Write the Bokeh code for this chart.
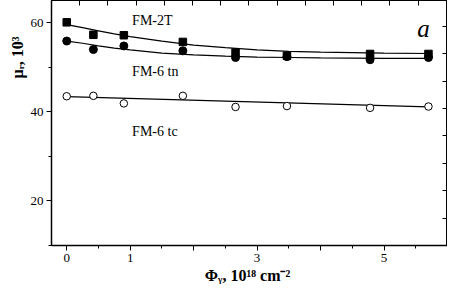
from bokeh.plotting import figure
from bokeh.models import Range1d, LinearAxis, FixedTicker, Label, Title
from bokeh.embed import file_html
from bokeh.resources import INLINE

# ---- data ----
dose = [0.0, 0.42, 0.90, 1.83, 2.66, 3.47, 4.78, 5.70]
fm2t = [60.1, 57.3, 57.2, 55.7, 53.3, 52.6, 53.0, 53.0]
fm6tn = [55.9, 54.0, 54.8, 53.7, 52.2, 52.4, 51.7, 52.2]
fm6tc = [43.5, 43.6, 41.9, 43.6, 41.1, 41.3, 40.9, 41.2]

fit_x = [0.0, 0.25, 0.5, 0.75, 1.0, 1.5, 2.0, 2.5, 3.0, 3.5, 4.0, 4.5, 5.0, 5.7]
fit_fm2t = [59.6, 58.9, 58.2, 57.5, 56.9, 55.9, 55.0, 54.4, 53.9, 53.6, 53.4, 53.3, 53.2, 53.1]
fit_fm6tn = [55.9, 55.4, 54.8, 54.3, 53.9, 53.2, 52.8, 52.5, 52.3, 52.2, 52.1, 52.05, 52.0, 52.0]
fit_tc_x = [0.0, 5.7]
fit_fm6tc = [43.4, 41.1]

x_ticks = [0, 1, 2, 3, 4, 5, 6]
x_tick_labels = {0: "0", 1: "1", 2: "", 3: "3", 4: "", 5: "5", 6: ""}
x_minor = [0.5, 1.5, 2.5, 3.5, 4.5, 5.5]
y_ticks = [20, 40, 60]
y_minor = [10, 30, 50]
top_ticks = list(range(1, 14))
right_ticks = list(range(1, 9))

FONT = "Liberation Serif"

p = figure(width=447, height=292, output_backend="svg", toolbar_location=None,
           x_range=Range1d(-0.24, 6.0), y_range=Range1d(10, 65),
           min_border_left=51, min_border_right=0, min_border_top=0, min_border_bottom=47)
p.background_fill_color = "white"
p.border_fill_color = "white"
p.outline_line_color = "black"
p.outline_line_width = 1
p.xgrid.visible = False
p.ygrid.visible = False

# bottom axis
xa = p.xaxis[0]
xa.ticker = FixedTicker(ticks=x_ticks, minor_ticks=x_minor)
xa.major_label_overrides = x_tick_labels
xa.axis_label = "Φᵧ,  10¹⁸ cm⁻²"
xa.axis_label_text_font = FONT
xa.axis_label_text_font_style = "bold"
xa.axis_label_text_font_size = "16px"
xa.axis_label_text_color = "black"
xa.axis_label_standoff = 2
xa.major_label_text_font = FONT
xa.major_label_text_font_size = "13px"
xa.major_label_text_color = "black"
xa.major_label_standoff = 3
xa.major_tick_out = 5
xa.major_tick_in = 0
xa.minor_tick_out = 3
xa.minor_tick_in = 0
xa.axis_line_color = "black"
xa.major_tick_line_color = "black"
xa.minor_tick_line_color = "black"
xa.axis_line_width = 1.5

# left axis
ya = p.yaxis[0]
ya.ticker = FixedTicker(ticks=y_ticks, minor_ticks=y_minor)
ya.major_label_text_font = FONT
ya.major_label_text_font_size = "13px"
ya.major_label_text_color = "black"
ya.major_label_standoff = 3
ya.major_tick_out = 5
ya.major_tick_in = 0
ya.minor_tick_out = 3
ya.minor_tick_in = 0
ya.axis_line_color = "black"
ya.major_tick_line_color = "black"
ya.minor_tick_line_color = "black"
ya.axis_line_width = 1.5

# y axis title placed toward the top of the left side
p.add_layout(Title(text="μᵣ, 10³", align="right", offset=36, text_font=FONT,
                   text_font_style="bold", text_font_size="16px", text_color="black",
                   standoff=4), "left")

# decorative top / right axes (tick marks only)
p.extra_x_ranges = {"top": Range1d(0, 14.04)}
p.extra_y_ranges = {"right": Range1d(0, 8.94)}
ta = LinearAxis(x_range_name="top", ticker=FixedTicker(ticks=top_ticks, minor_ticks=[]),
                major_label_overrides={t: "" for t in top_ticks}, major_label_standoff=0,
                axis_label_standoff=0,
                major_tick_in=5, major_tick_out=0, minor_tick_in=0, minor_tick_out=0,
                axis_line_color="black", major_tick_line_color="black")
ra = LinearAxis(y_range_name="right", ticker=FixedTicker(ticks=right_ticks, minor_ticks=[]),
                major_label_overrides={t: "" for t in right_ticks}, major_label_standoff=0,
                axis_label_standoff=0,
                major_tick_in=5, major_tick_out=0, minor_tick_in=0, minor_tick_out=0,
                axis_line_color="black", major_tick_line_color="black")
p.add_layout(ta, "above")
p.add_layout(ra, "right")

# fits
p.line(fit_x, fit_fm2t, line_color="black", line_width=1.2)
p.line(fit_x, fit_fm6tn, line_color="black", line_width=1.2)
p.line(fit_tc_x, fit_fm6tc, line_color="black", line_width=1.2)

# points
p.scatter(dose, fm2t, marker="square", size=7.5, fill_color="black", line_color="black")
p.scatter(dose, fm6tn, marker="circle", size=8, fill_color="black", line_color="black")
p.scatter(dose, fm6tc, marker="circle", size=7.5, fill_color="white", line_color="black", line_width=1)

# series labels
for txt, yy in [("FM-2T", 60.4), ("FM-6 tn", 49.1), ("FM-6 tc", 35.6)]:
    p.add_layout(Label(x=1.03, y=yy, text=txt, text_font=FONT, text_font_size="14px",
                       text_baseline="middle", text_align="left", text_color="black"))
p.add_layout(Label(x=5.72, y=58.8, text="a", text_font=FONT, text_font_size="25px",
                   text_font_style="italic", text_baseline="middle", text_align="right",
                   text_color="black"))

open("out.html", "w").write(file_html(p, INLINE))
